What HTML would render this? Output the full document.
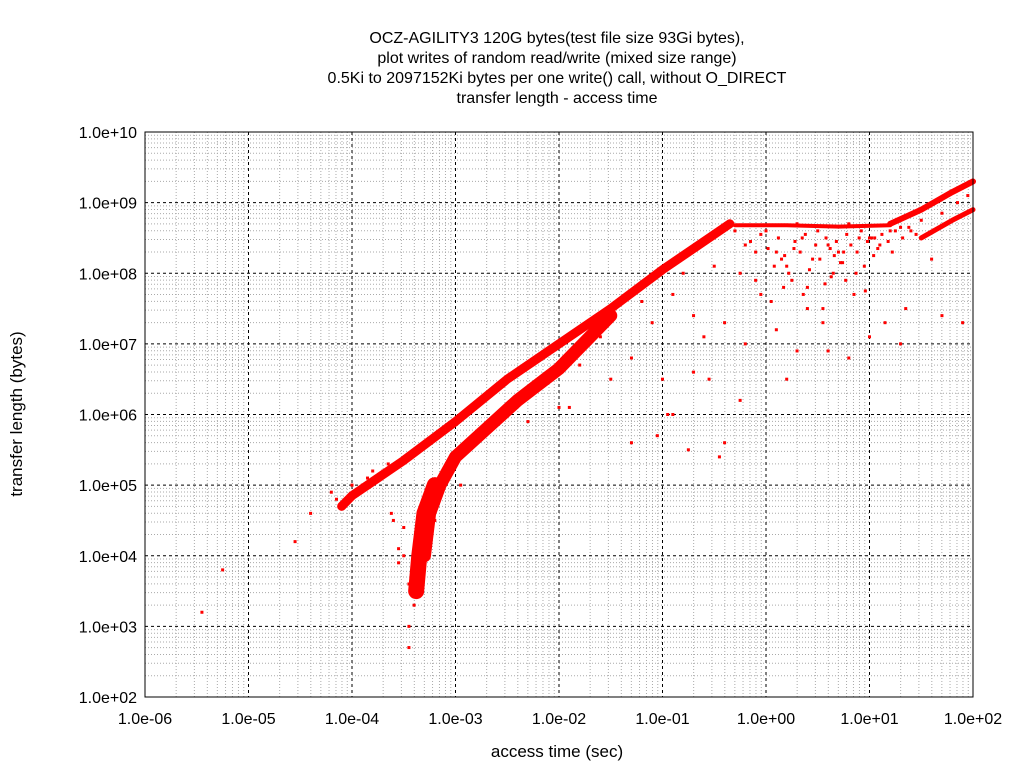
<!DOCTYPE html>
<html><head><meta charset="utf-8"><style>
body{margin:0;background:#fff;}
svg{display:block;font-family:"Liberation Sans",sans-serif;}
</style></head><body>
<svg id="chart" width="1024" height="768" xmlns="http://www.w3.org/2000/svg">
<rect width="1024" height="768" fill="#fff"/>
<g id="title" font-size="16" text-anchor="middle" fill="#000">
<text x="557" y="43">OCZ-AGILITY3 120G bytes(test file size 93Gi bytes),</text>
<text x="557" y="63">plot writes of random read/write (mixed size range)</text>
<text x="557" y="83">0.5Ki to 2097152Ki bytes per one write() call, without O_DIRECT</text>
<text x="557" y="103">transfer length - access time</text>
</g>
<g id="grid"></g>
<g id="bands"></g>
<g id="points"></g>
<rect x="145" y="132" width="828" height="565" fill="none" stroke="#000" stroke-width="1"/>
<g id="xt" font-size="16" text-anchor="middle"></g>
<g id="yt" font-size="16" text-anchor="end"></g>
<text x="557" y="757" font-size="17" text-anchor="middle">access time (sec)</text>
<text transform="translate(22,414) rotate(-90)" font-size="17" text-anchor="middle">transfer length (bytes)</text>
</svg>
<script>
const xTicks=[-6,-5,-4,-3,-2,-1,0,1,2];
const xTickLabels=["1.0e-06","1.0e-05","1.0e-04","1.0e-03","1.0e-02","1.0e-01","1.0e+00","1.0e+01","1.0e+02"];
const yTicks=[2,3,4,5,6,7,8,9,10];
const yTickLabels=["1.0e+02","1.0e+03","1.0e+04","1.0e+05","1.0e+06","1.0e+07","1.0e+08","1.0e+09","1.0e+10"];
// dense bands (log10 seconds, log10 bytes)
const upperBandX=[-4.1,-4.0,-3.5,-3.0,-2.5,-2.0,-1.5,-1.0,-0.5,-0.35];
const upperBandY=[4.7,4.85,5.35,5.9,6.5,7.0,7.5,8.05,8.55,8.7];
const lowerBandX=[-3.3,-3.25,-3.15,-3.0,-2.7,-2.4,-2.0,-1.7,-1.5];
const lowerBandY=[4.0,4.6,5.0,5.4,5.8,6.2,6.65,7.1,7.4];
const steepBandX=[-3.38,-3.35,-3.3,-3.2];
const steepBandY=[3.5,4.0,4.6,5.0];
const plateauX=[-0.3,0.2,0.7,1.2];
const plateauY=[8.68,8.68,8.66,8.68];
const riseBandX=[1.2,1.5,1.8,2.0];
const riseBandY=[8.7,8.9,9.15,9.3];
const riseBand2X=[1.5,1.8,2.0];
const riseBand2Y=[8.5,8.75,8.9];
// scattered points
const ptX=[-5.25,-5.45,-4.55,-4.4,-4.2,-3.9,-3.7,-3.45,-3.45,-3.4,-3.5,-3.3,-3.55,-2.95,-2.5,-2.3,-2.0,-1.8,-1.6,-1.5,-1.3,-1.2,-1.1,-1.0,-0.9,-0.8,-0.7,-0.6,-0.5,-0.4,-0.3,-0.2,-0.1,0.0,0.1,0.2,0.3,0.35,0.4,0.5,0.6,0.7,0.8,0.9,1.0,1.1,1.2,1.3,1.4,-0.25,0.05,0.15,0.25,0.45,0.55,0.65,0.75,0.85,0.95,1.05,1.35,1.6,1.9,-0.9,-1.05,-0.75,-0.55,-0.4,-0.25,0.1,0.3,0.55,1.0,1.3,1.7,-1.9,-1.3,-0.95,-0.7,-0.45,-0.2,0.4,0.8,0.2,-0.05,0.6,1.15,
-0.15,-0.05,0.02,0.12,0.18,0.28,0.33,0.38,0.48,0.52,0.58,0.62,0.68,0.72,0.78,0.82,0.88,0.92,0.98,1.02,1.08,1.12,1.18,1.25,1.32,1.38,1.45,0.08,0.22,0.42,0.63,0.74,0.87,1.04,1.22,0.17,0.36,0.57,0.77,0.96,-0.1,0.27,0.66,-3.6,-3.5,-3.45,-3.4,-3.3,-3.25,-3.2,-3.55,-3.62,-4.0,-4.15,-3.8,-3.85,-3.65,1.5,1.7,1.85,1.95];
const ptY=[3.8,3.2,4.2,4.6,4.9,5.0,5.2,3.0,2.7,3.9,4.4,4.2,4.1,5.0,6.1,5.9,6.1,6.7,7.1,6.5,6.8,7.6,7.3,6.5,7.7,8.0,7.4,7.1,8.1,7.3,8.6,8.4,7.9,8.6,8.3,8.1,8.7,8.5,7.8,8.6,8.4,8.3,8.7,8.5,8.5,8.4,8.6,8.65,8.6,8.0,7.6,8.2,7.9,8.2,7.5,8.0,8.3,7.7,8.1,8.5,7.5,8.2,7.3,6.0,5.7,5.5,6.5,5.6,6.2,7.2,6.9,7.3,7.1,7.0,7.4,6.1,5.6,6.0,6.6,5.4,7.0,7.5,6.8,6.5,7.7,6.9,7.3,
8.45,8.55,8.35,8.5,8.25,8.45,8.3,8.55,8.4,8.2,8.5,8.35,8.45,8.15,8.55,8.4,8.3,8.6,8.45,8.5,8.35,8.55,8.45,8.6,8.5,8.65,8.55,8.1,8.0,8.05,7.95,8.15,8.0,8.25,8.3,7.8,7.7,7.85,7.9,7.75,8.3,8.35,8.25,4.5,4.0,3.6,3.3,4.3,4.8,4.5,3.9,4.6,5.0,4.8,5.2,5.1,5.3,8.75,8.85,9.0,9.1];

const X0=145,X1=973,Y0=697,Y1=132;
const xs=v=>X0+(v+6)/8*(X1-X0);
const ys=v=>Y0-(v-2)/8*(Y0-Y1);
const NS="http://www.w3.org/2000/svg";
const grid=document.getElementById('grid');
function line(x1,y1,x2,y2,stroke,dash,name){
 const l=document.createElementNS(NS,'line');
 l.setAttribute('x1',x1);l.setAttribute('y1',y1);l.setAttribute('x2',x2);l.setAttribute('y2',y2);
 l.setAttribute('stroke',stroke);l.setAttribute('stroke-width',1);
 if(dash)l.setAttribute('stroke-dasharray',dash);
 
 
 grid.appendChild(l);
}
for(let d=-6;d<2;d++)for(let k=2;k<10;k++){const x=xs(d+Math.log10(k));line(x,Y1,x,Y0,'#aaa','1,2','x-minor-grid');}
for(let d=2;d<10;d++)for(let k=2;k<10;k++){const y=ys(d+Math.log10(k));line(X0,y,X1,y,'#aaa','1,2','y-minor-grid');}
xTicks.forEach(v=>line(xs(v),Y1,xs(v),Y0,'#000','3,3','x-major-grid'));
yTicks.forEach(v=>line(X0,ys(v),X1,ys(v),'#000','3,3','y-major-grid'));
const xt=document.getElementById('xt');
xTicks.forEach((v,i)=>{const t=document.createElementNS(NS,'text');t.setAttribute('x',xs(v));t.setAttribute('y',724);t.textContent=xTickLabels[i];


xt.appendChild(t);});
const yt=document.getElementById('yt');
yTicks.forEach((v,i)=>{const t=document.createElementNS(NS,'text');t.setAttribute('x',137);t.setAttribute('y',ys(v)+6);t.textContent=yTickLabels[i];


yt.appendChild(t);});
const bands=document.getElementById('bands');
function band(X,Y,w,name){
 const p=document.createElementNS(NS,'polyline');
 p.setAttribute('points',X.map((v,i)=>xs(v)+','+ys(Y[i])).join(' '));
 p.setAttribute('fill','none');p.setAttribute('stroke','#f00');p.setAttribute('stroke-width',w);
 p.setAttribute('stroke-linecap','round');p.setAttribute('stroke-linejoin','round');
 
 
 bands.appendChild(p);
}
band(upperBandX,upperBandY,9,'upper-band');
band(lowerBandX,lowerBandY,13,'lower-band');
band(steepBandX,steepBandY,16,'steep-band');
band(plateauX,plateauY,4,'plateau-band');
band(riseBandX,riseBandY,6,'rise-band');
band(riseBand2X,riseBand2Y,5,'rise-band-lower');
const pts=document.getElementById('points');
ptX.forEach((v,i)=>{const r=document.createElementNS(NS,'rect');r.setAttribute('x',xs(v)-1.5);r.setAttribute('y',ys(ptY[i])-1.5);r.setAttribute('width',3);r.setAttribute('height',3);r.setAttribute('fill','#f00');


pts.appendChild(r);});
</script>
</body></html>
